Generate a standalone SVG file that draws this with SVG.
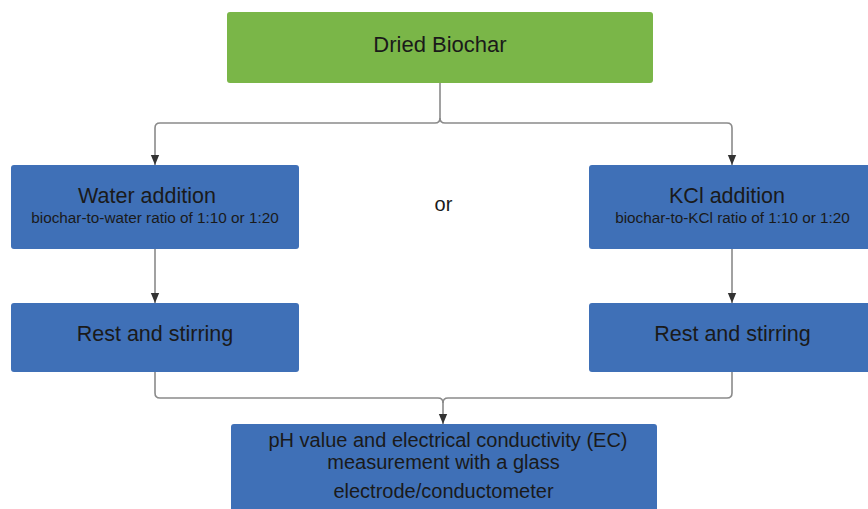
<svg xmlns="http://www.w3.org/2000/svg" width="868" height="509" viewBox="0 0 868 509">
<style>
.green{fill:#7ab648;}
.blue{fill:#3f70b7;}
text{font-family:"Liberation Sans",Arial,sans-serif;fill:#1a1a1a;text-anchor:middle;}
.t{font-size:21.5px;}
.tt{font-size:22px;}
.s{font-size:15.3px;}
.b{font-size:20px;}
.c{fill:none;stroke:#8a8a8a;stroke-width:1.6;}
</style>
<defs>
<marker id="ah" markerUnits="userSpaceOnUse" markerWidth="10" markerHeight="12" viewBox="0 0 12 10" refX="12" refY="5" orient="auto">
<path d="M0,0 L12,5 L0,10 Z" fill="#333"/>
</marker>
</defs>
<rect width="868" height="509" fill="#ffffff"/>
<g id="connectors">
<path class="c" d="M440,83 V118 Q440,123 435,123 H160 Q155,123 155,128 V165" marker-end="url(#ah)"/>
<path class="c" d="M440,118 Q440,123 445,123 H727 Q732,123 732,128 V165" marker-end="url(#ah)"/>
<path class="c" d="M155,249 V303" marker-end="url(#ah)"/>
<path class="c" d="M732,249 V303" marker-end="url(#ah)"/>
<path class="c" d="M155,372 V393 Q155,398 160,398 H438 Q443,398 443,403 V424" marker-end="url(#ah)"/>
<path class="c" d="M732,372 V393 Q732,398 727,398 H448 Q443,398 443,403"/>
</g>
<g id="dried-biochar">
<rect class="green" x="227" y="12" width="426" height="71" rx="3"/>
<text class="tt" x="440" y="52">Dried Biochar</text>
</g>
<g id="water-addition">
<rect class="blue" x="11" y="165" width="288" height="84" rx="3"/>
<text class="t" x="147" y="203">Water addition</text>
<text class="s" x="155" y="223">biochar-to-water ratio of 1:10 or 1:20</text>
</g>
<g id="kcl-addition">
<rect class="blue" x="589" y="165" width="288" height="84" rx="3"/>
<text class="t" x="727" y="203">KCl addition</text>
<text class="s" x="732.5" y="223">biochar-to-KCl ratio of 1:10 or 1:20</text>
</g>
<g id="or-label">
<text class="b" x="443.5" y="211">or</text>
</g>
<g id="rest-left">
<rect class="blue" x="11" y="303" width="288" height="69" rx="3"/>
<text class="t" x="155" y="341">Rest and stirring</text>
</g>
<g id="rest-right">
<rect class="blue" x="589" y="303" width="288" height="69" rx="3"/>
<text class="t" x="732.5" y="341">Rest and stirring</text>
</g>
<g id="measurement">
<rect class="blue" x="231" y="424" width="426" height="100" rx="3"/>
<text class="b" x="448" y="447">pH value and electrical conductivity (EC)</text>
<text class="b" x="443.5" y="469">measurement with a glass</text>
<text class="b" x="443.5" y="498">electrode/conductometer</text>
</g>
</svg>
